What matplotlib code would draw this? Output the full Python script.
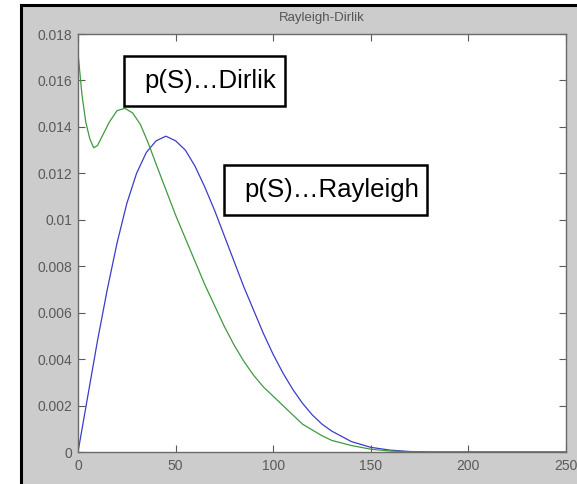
import matplotlib
matplotlib.use("Agg")
import matplotlib.pyplot as plt
from matplotlib.patches import Rectangle

# stress range S and the two probability densities
s_rayleigh = [0, 5, 10, 15, 20, 25, 30, 35, 40, 45, 50, 55, 60, 65, 70, 75, 80, 85,
              90, 95, 100, 105, 110, 115, 120, 125, 130, 140, 150, 160, 170, 180, 250]
p_rayleigh = [0.0, 0.0024, 0.0048, 0.0070, 0.0090, 0.0107, 0.0120, 0.0129, 0.0134,
              0.0136, 0.0134, 0.0130, 0.0123, 0.0114, 0.0104, 0.0093, 0.0082, 0.0071,
              0.0061, 0.0051, 0.0042, 0.0034, 0.0027, 0.0021, 0.0016, 0.0012, 0.0009,
              0.00045, 0.0002, 0.00008, 0.00002, 0.0, 0.0]

s_dirlik = [0, 2, 4, 6, 8, 10, 13, 16, 20, 24, 28, 32, 36, 40, 45, 50, 55, 60, 65, 70,
            75, 80, 85, 90, 95, 100, 105, 110, 115, 120, 125, 130, 140, 150, 160, 170,
            180, 250]
p_dirlik = [0.0172, 0.0154, 0.0142, 0.0135, 0.0131, 0.0132, 0.0137, 0.0142, 0.0147,
            0.0148, 0.0146, 0.0141, 0.0133, 0.0124, 0.0113, 0.0102, 0.0092, 0.0082,
            0.0072, 0.0063, 0.0054, 0.0046, 0.0039, 0.0033, 0.0028, 0.0024, 0.0020,
            0.0016, 0.0012, 0.00095, 0.0007, 0.0005, 0.00028, 0.00012, 0.00004,
            0.00001, 0.0, 0.0]

x_ticks = [0, 50, 100, 150, 200, 250]
y_ticks = [0, 0.002, 0.004, 0.006, 0.008, 0.01, 0.012, 0.014, 0.016, 0.018]
y_labels = ["0", "0.002", "0.004", "0.006", "0.008", "0.01", "0.012", "0.014", "0.016", "0.018"]

plt.rcParams['font.family'] = ['Liberation Sans', 'DejaVu Sans']

W, H = 577.0, 484.0
fig = plt.figure(figsize=(W / 100, H / 100), dpi=100, facecolor='white')


def px_rect(x0, y0, x1, y1, **kw):
    # rectangle given in figure pixels, y measured from the top
    return Rectangle((x0 / W, 1 - y1 / H), (x1 - x0) / W, (y1 - y0) / H,
                     transform=fig.transFigure, **kw)


# grey matlab-style window with a black frame on the left and top
frame = px_rect(21, 5, 620, 520, facecolor='#cccccc', edgecolor='black',
                linewidth=2.2, zorder=-5)
fig.add_artist(frame)

ax = fig.add_axes([78 / W, 1 - 452 / H, (566 - 78) / W, (452 - 34) / H])
ax.set_facecolor('white')

ax.plot(s_rayleigh, p_rayleigh, color='#3c3cc8', linewidth=0.9)
ax.plot(s_dirlik, p_dirlik, color='#3f9a3f', linewidth=0.9)

ax.set_xlim(0, 250)
ax.set_ylim(0, 0.018)
ax.set_xticks(x_ticks)
ax.set_xticklabels([str(t) for t in x_ticks])
ax.set_yticks(y_ticks)
ax.set_yticklabels(y_labels)
ax.tick_params(direction='in', length=5, width=0.8, colors='#5a5a5a', labelsize=10,
               top=True, right=True)
ax.tick_params(axis='y', pad=4)
ax.tick_params(axis='x', pad=5)
for sp in ax.spines.values():
    sp.set_color('#6a6a6a')
    sp.set_linewidth(1.0)

ax.set_title('Rayleigh-Dirlik', fontsize=9.5, color='#555555', pad=9)

# the two label boxes
fig.add_artist(px_rect(124, 56, 285, 106, facecolor='white', edgecolor='black',
                       linewidth=1.8, zorder=5))
fig.add_artist(px_rect(224, 165, 427, 215, facecolor='white', edgecolor='black',
                       linewidth=1.8, zorder=5))
fig.text(144 / W, 1 - 81 / H, 'p(S)\u2026Dirlik', fontsize=18.5, va='center', ha='left',
         zorder=6)
fig.text(244 / W, 1 - 190 / H, 'p(S)\u2026Rayleigh', fontsize=18.5, va='center', ha='left',
         zorder=6)

fig.savefig('out.png', dpi=100, facecolor=fig.get_facecolor())
